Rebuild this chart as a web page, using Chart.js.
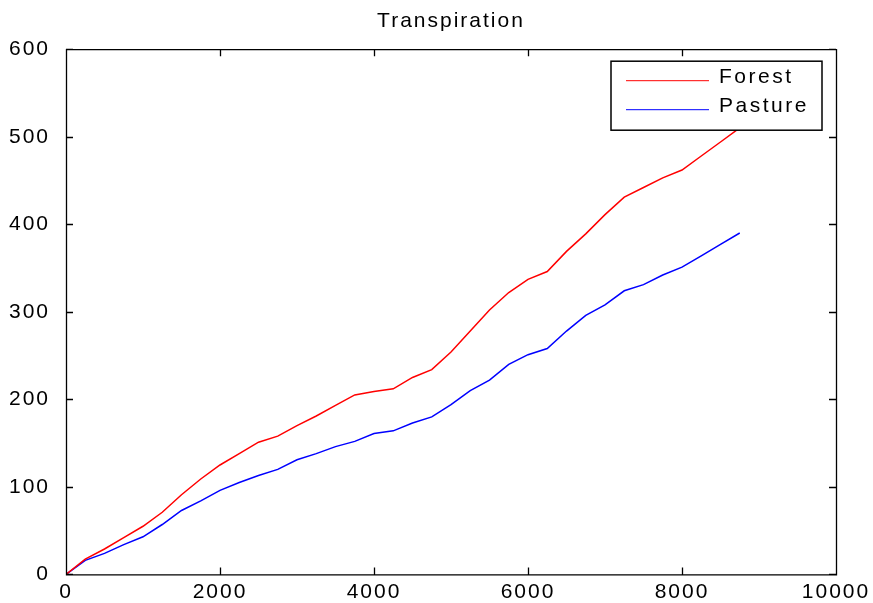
<!DOCTYPE html>
<html lang="en">
<head>
    <meta charset="UTF-8">
    <title>Transpiration</title>
    <script src="https://cdn.jsdelivr.net/npm/chart.js"></script>
    <style>
        html, body { margin: 0; padding: 0; background: #fff; }
        #chart { display: block; }
    </style>
</head>
<body>
    <canvas id="chart" width="873" height="603"></canvas>

    <script>
        // data
        const days = [0, 250, 500, 750, 1000, 1250, 1500, 1750, 2000, 2250, 2500, 2750,
            3000, 3250, 3500, 3750, 4000, 4250, 4500, 4750, 5000, 5250, 5500, 5750,
            6000, 6250, 6500, 6750, 7000, 7250, 7500, 7750, 8000, 8250, 8500, 8750];
        const forest = [0, 17.5, 29, 42, 55, 71, 91, 109, 125, 138, 151, 158,
            170, 181, 193, 205, 209, 212, 225, 234, 254, 278, 302, 322,
            337, 346, 369, 389, 411, 431, 442, 453, 462, 478, 494, 510];
        const pasture = [0, 16, 24, 34, 43, 57, 73, 84, 96, 105, 113, 120,
            131, 138, 146, 152, 161, 164, 173, 180, 194, 210, 222, 240,
            251, 258, 278, 296, 308, 324, 331, 342, 351, 364, 377, 390];
        const xTicks = [0, 2000, 4000, 6000, 8000, 10000];
        const yTicks = [0, 100, 200, 300, 400, 500, 600];

        const FONT = "'Liberation Sans', Arial, sans-serif";
        Chart.defaults.color = '#000';
        Chart.defaults.font.family = FONT;

        const toPoints = (ys) => days.map((d, i) => ({ x: d, y: ys[i] }));

        // matlab-ish spaced out lettering
        const spacing = {
            id: 'spacing',
            beforeUpdate(chart) { chart.ctx.letterSpacing = '2px'; },
            beforeDraw(chart) { chart.ctx.letterSpacing = '2px'; }
        };

        // box round the axes and ticks pointing inwards
        const frame = {
            id: 'frame',
            afterDraw(chart) {
                const { ctx, chartArea: a, scales } = chart;
                const len = 7;
                ctx.save();
                ctx.strokeStyle = '#000';
                ctx.lineWidth = 1.3;
                ctx.beginPath();
                ctx.rect(a.left + 0.5, a.top + 0.5, a.right - a.left, a.bottom - a.top);
                xTicks.forEach(v => {
                    const px = Math.round(scales.x.getPixelForValue(v)) + 0.5;
                    ctx.moveTo(px, a.bottom); ctx.lineTo(px, a.bottom - len);
                    ctx.moveTo(px, a.top); ctx.lineTo(px, a.top + len);
                });
                yTicks.forEach(v => {
                    const py = Math.round(scales.y.getPixelForValue(v)) + 0.5;
                    ctx.moveTo(a.left, py); ctx.lineTo(a.left + len, py);
                    ctx.moveTo(a.right, py); ctx.lineTo(a.right - len, py);
                });
                ctx.stroke();
                ctx.restore();
            }
        };

        // boxed legend in the top right corner
        const boxLegend = {
            id: 'boxLegend',
            afterDraw(chart) {
                const { ctx, chartArea: a } = chart;
                const w = 211, h = 69;
                const left = a.right - 14 - w, top = a.top + 12;
                ctx.save();
                ctx.fillStyle = '#fff';
                ctx.fillRect(left, top, w, h);
                ctx.strokeStyle = '#000';
                ctx.lineWidth = 1.5;
                ctx.strokeRect(left, top, w, h);
                ctx.font = '21px ' + FONT;
                ctx.letterSpacing = '2.5px';
                ctx.textBaseline = 'middle';
                ctx.fillStyle = '#000';
                chart.data.datasets.forEach((ds, i) => {
                    const y = top + 19 + i * 29 + 0.5;
                    ctx.strokeStyle = ds.borderColor;
                    ctx.lineWidth = 1;
                    ctx.beginPath();
                    ctx.moveTo(left + 15, y);
                    ctx.lineTo(left + 98, y);
                    ctx.stroke();
                    ctx.fillText(ds.label, left + 108, y - 3);
                });
                ctx.restore();
            }
        };

        new Chart(document.getElementById('chart'), {
            type: 'line',
            data: {
                datasets: [{
                    label: 'Forest',
                    data: toPoints(forest),
                    borderColor: '#ff0000',
                    borderWidth: 1.5,
                    pointRadius: 0,
                    tension: 0,
                    fill: false
                }, {
                    label: 'Pasture',
                    data: toPoints(pasture),
                    borderColor: '#0000ff',
                    borderWidth: 1.5,
                    pointRadius: 0,
                    tension: 0,
                    fill: false
                }]
            },
            options: {
                responsive: false,
                animation: false,
                layout: { padding: { left: 0, right: 37, top: 0, bottom: 0 } },
                plugins: {
                    legend: { display: false },
                    tooltip: { enabled: false },
                    title: {
                        display: true,
                        text: 'Transpiration',
                        fullSize: false,
                        font: { size: 21, weight: 'normal' },
                        padding: { top: 9, bottom: 15 }
                    }
                },
                scales: {
                    x: {
                        type: 'linear',
                        min: 0,
                        max: 10000,
                        afterBuildTicks(scale) { scale.ticks = xTicks.map(v => ({ value: v })); },
                        afterFit(scale) {
                            scale.height = 28;
                            scale.paddingLeft = 0;
                            scale.paddingRight = 0;
                        },
                        ticks: { font: { size: 21 }, padding: 5, maxRotation: 0, callback: v => String(v) },
                        grid: { display: false, drawTicks: false },
                        border: { display: false }
                    },
                    y: {
                        type: 'linear',
                        min: 0,
                        max: 600,
                        afterBuildTicks(scale) { scale.ticks = yTicks.map(v => ({ value: v })); },
                        afterFit(scale) { scale.width = 66; },
                        ticks: { font: { size: 21 }, padding: 16, callback: v => String(v) },
                        grid: { display: false, drawTicks: false },
                        border: { display: false }
                    }
                }
            },
            plugins: [spacing, frame, boxLegend]
        });
    </script>
</body>
</html>
